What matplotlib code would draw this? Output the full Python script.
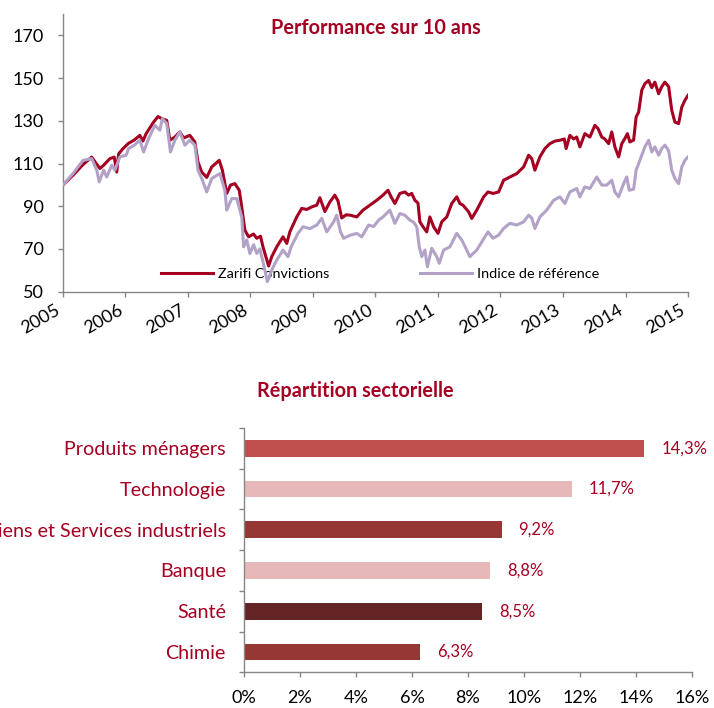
import matplotlib
matplotlib.use('Agg')
import matplotlib.pyplot as plt
import numpy as np

plt.rcParams['font.family'] = ['Lato', 'DejaVu Sans']

# --- performance sur 10 ans ---
zarifi_years = [2005.00, 2005.16, 2005.32, 2005.46, 2005.52, 2005.59, 2005.65, 2005.75, 2005.82, 2005.86,
                2005.89, 2005.96, 2006.05, 2006.14, 2006.23, 2006.28, 2006.33, 2006.45, 2006.52, 2006.58,
                2006.66, 2006.71, 2006.79, 2006.87, 2006.93, 2007.03, 2007.11, 2007.16, 2007.22, 2007.30,
                2007.38, 2007.50, 2007.55, 2007.62, 2007.68, 2007.75, 2007.82, 2007.86, 2007.91, 2007.97,
                2008.05, 2008.10, 2008.16, 2008.20, 2008.29, 2008.34, 2008.42, 2008.52, 2008.58, 2008.63,
                2008.74, 2008.82, 2008.90, 2008.98, 2009.06, 2009.11, 2009.19, 2009.27, 2009.35, 2009.40,
                2009.46, 2009.53, 2009.60, 2009.70, 2009.80, 2009.91, 2010.02, 2010.12, 2010.20, 2010.25,
                2010.31, 2010.39, 2010.47, 2010.53, 2010.58, 2010.63, 2010.68, 2010.71, 2010.76, 2010.82,
                2010.87, 2010.93, 2011.00, 2011.06, 2011.14, 2011.22, 2011.30, 2011.35, 2011.40, 2011.49,
                2011.54, 2011.62, 2011.73, 2011.80, 2011.88, 2011.97, 2012.05, 2012.15, 2012.26, 2012.37,
                2012.45, 2012.50, 2012.55, 2012.63, 2012.71, 2012.79, 2012.87, 2012.95, 2013.02, 2013.05,
                2013.11, 2013.17, 2013.22, 2013.27, 2013.35, 2013.43, 2013.51, 2013.56, 2013.62, 2013.67,
                2013.73, 2013.78, 2013.83, 2013.89, 2013.94, 2013.99, 2014.03, 2014.07, 2014.13, 2014.17,
                2014.21, 2014.26, 2014.31, 2014.37, 2014.42, 2014.47, 2014.53, 2014.58, 2014.63, 2014.69,
                2014.74, 2014.79, 2014.85, 2014.90, 2014.95, 2015.00]
zarifi_values = [100.0, 104.5, 109.5, 113.0, 110.5, 107.7, 109.2, 112.3, 113.0, 106.0,
                 114.5, 117.0, 119.5, 121.0, 123.2, 120.5, 124.0, 129.4, 132.0, 131.0,
                 130.2, 120.9, 122.4, 124.8, 122.0, 123.2, 120.1, 110.7, 106.0, 103.5,
                 108.4, 111.5, 106.9, 96.0, 99.9, 100.6, 97.5, 89.7, 78.8, 75.7,
                 77.0, 75.0, 76.0, 71.0, 62.0, 66.4, 71.0, 75.7, 72.6, 78.0,
                 85.0, 89.0, 88.5, 89.7, 90.5, 94.0, 87.5, 92.0, 95.2, 92.5,
                 84.5, 86.0, 85.8, 85.0, 88.2, 90.5, 92.8, 95.2, 97.5, 94.4,
                 91.3, 96.0, 96.7, 95.2, 96.0, 92.8, 91.5, 82.7, 80.4, 78.0,
                 85.0, 80.4, 77.3, 82.7, 85.0, 91.3, 94.4, 91.3, 90.5, 87.4,
                 84.3, 88.2, 94.4, 96.7, 96.0, 96.7, 102.2, 103.7, 105.3, 108.4,
                 113.9, 112.3, 106.9, 113.1, 117.0, 119.3, 120.5, 120.9, 121.5, 117.0,
                 123.2, 121.5, 122.4, 117.8, 124.0, 122.4, 127.9, 126.4, 122.4, 121.5,
                 119.3, 124.8, 117.8, 113.1, 119.3, 121.7, 124.0, 120.1, 121.0, 131.8,
                 134.1, 144.3, 147.4, 148.9, 145.5, 148.1, 142.7, 146.0, 148.1, 146.0,
                 134.9, 129.4, 128.7, 136.4, 139.6, 141.9]

indice_years = [2005.00, 2005.16, 2005.32, 2005.46, 2005.54, 2005.58, 2005.65, 2005.70, 2005.78, 2005.83,
                2005.91, 2006.01, 2006.05, 2006.14, 2006.23, 2006.29, 2006.37, 2006.47, 2006.55, 2006.59,
                2006.66, 2006.72, 2006.79, 2006.87, 2006.95, 2007.03, 2007.11, 2007.16, 2007.22, 2007.30,
                2007.38, 2007.51, 2007.59, 2007.62, 2007.70, 2007.78, 2007.86, 2007.89, 2007.94, 2007.99,
                2008.05, 2008.10, 2008.15, 2008.20, 2008.27, 2008.34, 2008.42, 2008.52, 2008.60, 2008.65,
                2008.76, 2008.84, 2008.95, 2009.06, 2009.14, 2009.22, 2009.33, 2009.38, 2009.44, 2009.49,
                2009.60, 2009.70, 2009.78, 2009.89, 2009.97, 2010.05, 2010.12, 2010.23, 2010.31, 2010.39,
                2010.47, 2010.55, 2010.61, 2010.66, 2010.70, 2010.74, 2010.79, 2010.83, 2010.90, 2010.98,
                2011.02, 2011.09, 2011.19, 2011.30, 2011.38, 2011.46, 2011.51, 2011.62, 2011.72, 2011.80,
                2011.88, 2011.97, 2012.05, 2012.15, 2012.26, 2012.37, 2012.45, 2012.50, 2012.55, 2012.63,
                2012.74, 2012.85, 2012.95, 2013.03, 2013.11, 2013.22, 2013.27, 2013.35, 2013.43, 2013.54,
                2013.62, 2013.70, 2013.78, 2013.83, 2013.89, 2013.97, 2014.02, 2014.06, 2014.13, 2014.17,
                2014.23, 2014.31, 2014.37, 2014.42, 2014.47, 2014.53, 2014.58, 2014.63, 2014.69, 2014.74,
                2014.79, 2014.85, 2014.90, 2014.95, 2015.00]
indice_values = [100.0, 105.3, 111.5, 112.3, 106.9, 101.4, 106.9, 103.7, 109.2, 106.9,
                 113.1, 113.9, 117.0, 118.6, 120.9, 115.4, 121.7, 127.9, 125.6, 131.0,
                 128.7, 115.4, 120.9, 124.8, 118.6, 120.9, 118.6, 106.9, 103.0, 96.7,
                 103.0, 105.3, 97.5, 88.2, 93.6, 93.6, 85.0, 71.0, 74.2, 67.9,
                 72.0, 67.9, 70.0, 64.0, 54.7, 60.1, 64.8, 69.5, 66.4, 71.0,
                 77.3, 80.4, 79.5, 81.2, 84.3, 78.0, 82.7, 85.8, 78.0, 75.0,
                 76.5, 77.3, 75.7, 81.2, 80.5, 83.5, 85.0, 88.2, 82.0, 86.6,
                 85.8, 83.5, 82.5, 80.4, 71.0, 66.4, 69.5, 61.7, 70.3, 66.4,
                 63.3, 69.5, 71.0, 77.3, 74.2, 69.5, 66.4, 69.5, 74.2, 78.0,
                 75.0, 76.5, 79.6, 82.0, 81.2, 82.7, 85.8, 84.5, 79.6, 85.0,
                 88.2, 92.8, 94.4, 91.3, 96.7, 98.3, 94.4, 99.1, 98.3, 103.7,
                 99.9, 99.9, 102.2, 96.7, 94.4, 100.6, 103.7, 97.5, 98.0, 106.9,
                 111.5, 117.8, 120.9, 115.4, 117.8, 113.9, 117.0, 118.6, 116.0, 106.9,
                 103.0, 100.6, 108.4, 111.5, 113.1]

year_ticks = list(range(2005, 2016))
value_ticks = [50, 70, 90, 110, 130, 150, 170]

# --- repartition sectorielle ---
sectors = ['Produits ménagers', 'Technologie', 'Biens et Services industriels', 'Banque', 'Santé', 'Chimie']
weights = [14.3, 11.7, 9.2, 8.8, 8.5, 6.3]
pct_ticks = [0, 2, 4, 6, 8, 10, 12, 14, 16]

RED = '#A50021'
LAVENDER = '#B3A2C7'
GREY = '#868686'
bar_colors = ['#C0504D', '#E6B9B8', '#953735', '#E6B9B8', '#632523', '#953735']

fig = plt.figure(figsize=(7.14, 7.08), dpi=100)

# ============ line chart ============
ax1 = fig.add_axes([0.0882, 0.588, 0.8754, 0.3922])
ax1.plot(zarifi_years, zarifi_values, color=RED, lw=2.2, label='Zarifi Convictions', zorder=3)
ax1.plot(indice_years, indice_values, color=LAVENDER, lw=2.2, label='Indice de référence', zorder=4)
ax1.set_xlim(2005, 2015)
ax1.set_ylim(50, 180)
ax1.set_xticks(year_ticks)
ax1.set_xticklabels([str(y) for y in year_ticks], rotation=30, ha='right')
ax1.set_yticks(value_ticks)
for s in ['top', 'right']:
    ax1.spines[s].set_visible(False)
for s in ['left', 'bottom']:
    ax1.spines[s].set_color(GREY)
    ax1.spines[s].set_linewidth(1)
ax1.tick_params(direction='out', length=3.6, width=1, color=GREY, labelsize=13)
ax1.tick_params(axis='y', pad=10)
ax1.tick_params(axis='x', pad=4)
ax1.text(0.5, 0.95, 'Performance sur 10 ans', transform=ax1.transAxes, ha='center', va='center',
         fontsize=14.3, fontweight='bold', color=RED)
leg = ax1.legend(ncol=2, loc='center', bbox_to_anchor=(0.507, 0.064), frameon=False, fontsize=10.4,
                 handlelength=3.6, handletextpad=0.35, columnspacing=6.3)
leg.set_zorder(1)

# ============ bar chart ============
ax2 = fig.add_axes([0.3417, 0.0504, 0.6275, 0.3453])
ypos = np.arange(len(sectors))[::-1]
ax2.barh(ypos, weights, height=0.41, color=bar_colors)
ax2.set_xlim(0, 16)
ax2.set_ylim(-0.5, len(sectors) - 0.5)
ax2.set_yticks(ypos)
ax2.set_yticklabels(sectors, color=RED, fontsize=14.2)
ax2.set_yticks(np.arange(-0.5, len(sectors), 1), minor=True)
ax2.set_xticks(pct_ticks)
ax2.set_xticklabels([f'{p}%' for p in pct_ticks])
for s in ['top', 'right']:
    ax2.spines[s].set_visible(False)
for s in ['left', 'bottom']:
    ax2.spines[s].set_color(GREY)
    ax2.spines[s].set_linewidth(1)
ax2.tick_params(axis='y', which='major', length=0, pad=13)
ax2.tick_params(axis='y', which='minor', direction='out', length=3.6, width=1, color=GREY)
ax2.tick_params(axis='x', direction='out', length=3.6, width=1, color=GREY, labelsize=13, pad=9)
for y, w in zip(ypos, weights):
    ax2.text(w + 0.6, y, f'{w:.1f}'.replace('.', ',') + '%', va='center', ha='left',
             fontsize=12, color=RED)

fig.text(0.497, 0.4477, 'Répartition sectorielle', ha='center', va='center',
         fontsize=14.3, fontweight='bold', color=RED)

fig.savefig('out.png', dpi=100)
